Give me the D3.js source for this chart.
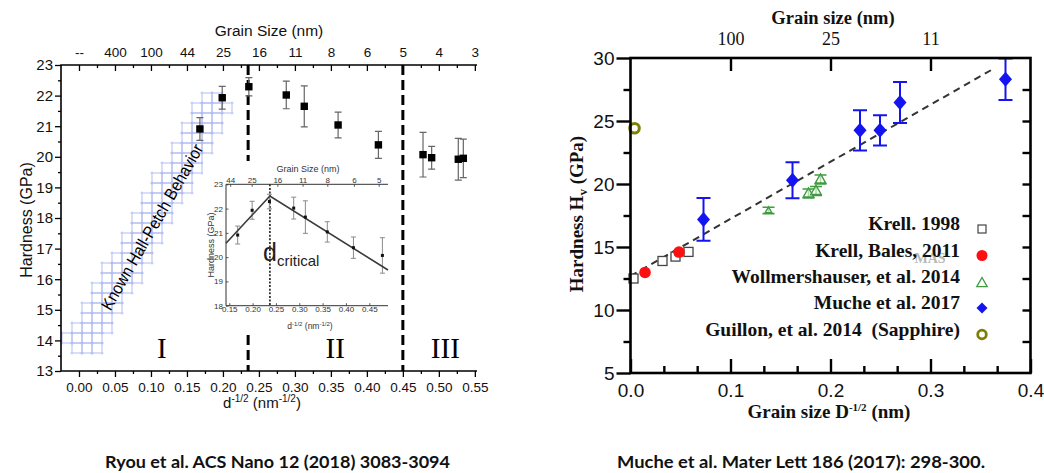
<!DOCTYPE html>
<html>
<head>
<meta charset="utf-8">
<script src="https://cdn.jsdelivr.net/npm/d3@7"></script>
<style>
  body { margin: 0; background: #fff; }
  svg { display: block; }
</style>
</head>
<body>
<svg id="fig" width="1044" height="473"></svg>
<script>
// ---------- Left panel: hardness vs d^-1/2 (Ryou et al.) ----------
const ryouX   = [0.168, 0.199, 0.236, 0.288, 0.313, 0.360, 0.416, 0.478, 0.490, 0.527, 0.534];
const ryouH   = [20.91, 21.93, 22.29, 22.02, 21.65, 21.04, 20.39, 20.07, 19.97, 19.92, 19.95];
const ryouErr = [0.37, 0.37, 0.30, 0.45, 0.67, 0.42, 0.44, 0.73, 0.37, 0.68, 0.63];
const insetCount = 8;                       // inset repeats the first eight points
const leftXTicks = [0, 0.05, 0.10, 0.15, 0.20, 0.25, 0.30, 0.35, 0.40, 0.45, 0.50, 0.55];
const topGrainLabels = ["--", "400", "100", "44", "25", "16", "11", "8", "6", "5", "4", "3"];
const leftYTicks = [13, 14, 15, 16, 17, 18, 19, 20, 21, 22, 23];
const regionBounds = [0.235, 0.45];
const regionLabels = ["I", "II", "III"];
const regionLabelX = [0.115, 0.356, 0.509];
const hallPetchBand = [[-0.022, 13.88], [0.018, 13.38], [0.214, 21.62], [0.178, 22.22]];
const insetFit = [[0.143, 20.57], [0.237, 22.52], [0.49, 19.47]];
const dCritical = 0.237;
const insetXTicks = [0.15, 0.20, 0.25, 0.30, 0.35, 0.40, 0.45];
const insetYTicks = [18, 19, 20, 21, 22, 23];
const insetTopPos = [0.152, 0.198, 0.253, 0.307, 0.360, 0.417, 0.470];
const insetTopLabels = ["44", "25", "16", "11", "8", "6", "5"];

// ---------- Right panel: hardness vs D^-1/2 (Muche et al.) ----------
const krellX = [0.003, 0.032, 0.045, 0.058];
const krellH = [12.5, 13.89, 14.24, 14.61];
const balesX = [0.0145, 0.0485];
const balesH = [12.98, 14.6];
const wollX = [0.138, 0.178, 0.1855, 0.190];
const wollH = [17.9, 19.25, 19.45, 20.36];
const wollErr = [0.25, 0.35, 0.35, 0.35];
const mucheX = [0.073, 0.162, 0.2295, 0.2495, 0.2695, 0.375];
const mucheH = [17.19, 20.3, 24.26, 24.26, 26.47, 28.31];
const mucheErr = [1.7, 1.43, 1.6, 1.2, 1.63, 1.65];
const guillonX = [0.004];
const guillonH = [24.42];
const trendLine = [[0.0, 12.7], [0.362, 29.1]];
const rightXTicks = [0, 0.1, 0.2, 0.3, 0.4];
const rightYTicks = [5, 10, 15, 20, 25, 30];
const rightTopPos = [0.1, 0.2, 0.3];
const rightTopLabels = ["100", "25", "11"];
const legendNames = ["Krell. 1998", "Krell, Bales, 2011", "Wollmershauser, et al. 2014",
                     "Muche et al. 2017", "Guillon, et al. 2014  (Sapphire)"];

const sans = "'Liberation Sans', Arial, sans-serif";
const serif = "'Liberation Serif', 'Times New Roman', serif";
const svg = d3.select("#fig");

/* =================== LEFT PANEL =================== */
const L = { left: 61, right: 477, top: 65, bottom: 371 };
const xL = d3.scaleLinear().domain([-0.025, 0.553]).range([L.left, L.right]);
const yL = d3.scaleLinear().domain([13, 23]).range([L.bottom, L.top]);
const gL = svg.append("g").attr("font-family", sans);

// cross-hatched Hall-Petch band built from whole grid cells
const bandPx = hallPetchBand.map(([x, y]) => [xL(x), yL(y)]);
const cell = 10;
const bx = d3.extent(bandPx, d => d[0]), by = d3.extent(bandPx, d => d[1]);
const cells = [];
for (let cx = Math.floor(bx[0] / cell) * cell + 2; cx < bx[1]; cx += cell)
  for (let cy = Math.floor(by[0] / cell) * cell + 3; cy < by[1]; cy += cell)
    if (d3.polygonContains(bandPx, [cx + cell / 2, cy + cell / 2])) cells.push([cx, cy]);
gL.append("g").attr("stroke", "#b1bcf2").attr("stroke-width", 1).attr("fill", "none")
  .selectAll("path").data(cells).join("path")
  .attr("d", ([cx, cy]) =>
    `M${cx - 1.5},${cy}H${cx + cell + 1.5}M${cx - 1.5},${cy + cell}H${cx + cell + 1.5}` +
    `M${cx},${cy - 1.5}V${cy + cell + 1.5}M${cx + cell},${cy - 1.5}V${cy + cell + 1.5}`);

gL.append("text")
  .attr("transform", "translate(152,227) rotate(-60.2)")
  .attr("text-anchor", "middle").attr("dy", "0.35em")
  .attr("font-size", 17).attr("textLength", 188).attr("lengthAdjust", "spacingAndGlyphs")
  .text("Known Hall-Petch Behavior");

// regime boundaries
gL.selectAll("line.region").data(regionBounds).join("line")
  .attr("class", "region")
  .attr("x1", d => xL(d)).attr("x2", d => xL(d))
  .attr("y1", L.top).attr("y2", L.bottom)
  .attr("stroke", "#000").attr("stroke-width", 3).attr("stroke-dasharray", "10,5");

gL.selectAll("text.region").data(regionLabels).join("text")
  .attr("class", "region")
  .attr("x", (d, i) => xL(regionLabelX[i])).attr("y", 358)
  .attr("text-anchor", "middle").attr("font-family", serif).attr("font-size", 29)
  .text(d => d);

// data with error bars
const ryou = ryouX.map((x, i) => ({ x, h: ryouH[i], e: ryouErr[i] }));
const eb = gL.append("g").attr("stroke", "#666").attr("stroke-width", 1.2).attr("fill", "none");
eb.selectAll("path").data(ryou).join("path")
  .attr("d", d => {
    const x = xL(d.x), y1 = yL(d.h + d.e), y2 = yL(d.h - d.e);
    return `M${x},${y1}V${y2}M${x - 3.5},${y1}H${x + 3.5}M${x - 3.5},${y2}H${x + 3.5}`;
  });
gL.append("g").selectAll("rect").data(ryou).join("rect")
  .attr("x", d => xL(d.x) - 3.7).attr("y", d => yL(d.h) - 3.7)
  .attr("width", 7.4).attr("height", 7.4).attr("fill", "#000");

// axes
const fmt2 = d3.format(".2f");
const axL = gL.append("g").attr("transform", `translate(${L.left},0)`)
  .call(d3.axisLeft(yL).tickValues(leftYTicks).tickSize(6).tickPadding(2).tickFormat(d3.format("d")));
gL.append("g").attr("transform", `translate(${L.left},0)`)
  .call(d3.axisLeft(yL).tickValues(d3.range(13.5, 23, 1)).tickSize(3).tickFormat(""));
const axB = gL.append("g").attr("transform", `translate(0,${L.bottom})`)
  .call(d3.axisBottom(xL).tickValues(leftXTicks).tickSize(6).tickPadding(5).tickFormat(fmt2));
gL.append("g").attr("transform", `translate(0,${L.bottom})`)
  .call(d3.axisBottom(xL).tickValues(leftXTicks.map(v => v + 0.025).filter(v => v < 0.553)).tickSize(3).tickFormat(""));
const axT = gL.append("g").attr("transform", `translate(0,${L.top})`)
  .call(d3.axisTop(xL).tickValues(leftXTicks).tickSize(-6).tickPadding(8)
    .tickFormat((d, i) => topGrainLabels[i]));
gL.append("g").attr("transform", `translate(0,${L.top})`)
  .call(d3.axisTop(xL).tickValues(leftXTicks.map(v => v + 0.025).filter(v => v < 0.553)).tickSize(-3).tickFormat(""));
gL.selectAll(".domain").remove();
gL.selectAll(".tick line").attr("stroke", "#000").attr("stroke-width", 1.3);
axL.selectAll("text").attr("font-size", 15).attr("font-family", sans).attr("fill", "#111");
axB.selectAll("text").attr("font-size", 13.5).attr("font-family", sans).attr("fill", "#111");
axT.selectAll("text").attr("font-size", 13.5).attr("font-family", sans).attr("fill", "#111");
gL.append("path")
  .attr("d", `M${L.right},${L.top}H${L.left}V${L.bottom}H${L.right}`)
  .attr("fill", "none").attr("stroke", "#000").attr("stroke-width", 1.6);

gL.append("text").attr("x", 269).attr("y", 36).attr("text-anchor", "middle")
  .attr("font-size", 15.5).attr("fill", "#111").text("Grain Size (nm)");
gL.append("text").attr("transform", "translate(32,220) rotate(-90)")
  .attr("text-anchor", "middle").attr("font-size", 16).attr("fill", "#111").text("Hardness (GPa)");
const xtL = gL.append("text").attr("x", 262).attr("y", 408).attr("text-anchor", "middle")
  .attr("font-size", 15).attr("fill", "#111");
xtL.append("tspan").text("d");
xtL.append("tspan").attr("dy", -6).attr("font-size", 10).text("-1/2");
xtL.append("tspan").attr("dy", 6).text(" (nm");
xtL.append("tspan").attr("dy", -6).attr("font-size", 10).text("-1/2");
xtL.append("tspan").attr("dy", 6).text(")");

/* ---------- inset ---------- */
const I = { left: 226, right: 388, top: 184.3, bottom: 305.7 };
const xI = d3.scaleLinear().domain([0.143, 0.49]).range([I.left, I.right]);
const yI = d3.scaleLinear().domain([18, 23]).range([I.bottom, I.top]);
const gI = svg.append("g").attr("font-family", sans);
gI.append("rect").attr("x", 203).attr("y", 161).attr("width", 192).attr("height", 171).attr("fill", "#fff");

gI.append("line").attr("x1", xI(dCritical)).attr("x2", xI(dCritical))
  .attr("y1", I.top).attr("y2", I.bottom)
  .attr("stroke", "#333").attr("stroke-width", 1.8).attr("stroke-dasharray", "2,1.6");
const insetData = ryou.slice(0, insetCount);
gI.append("g").attr("stroke", "#8a8a8a").attr("stroke-width", 1).attr("fill", "none")
  .selectAll("path").data(insetData).join("path")
  .attr("d", d => {
    const x = xI(d.x), y1 = yI(d.h + d.e), y2 = yI(d.h - d.e);
    return `M${x},${y1}V${y2}M${x - 2.5},${y1}H${x + 2.5}M${x - 2.5},${y2}H${x + 2.5}`;
  });
gI.append("path").datum(insetFit)
  .attr("d", d3.line().x(d => xI(d[0])).y(d => yI(d[1])))
  .attr("fill", "none").attr("stroke", "#3a3a3a").attr("stroke-width", 1.6);
gI.append("g").selectAll("rect").data(insetData).join("rect")
  .attr("x", d => xI(d.x) - 1.5).attr("y", d => yI(d.h) - 1.5)
  .attr("width", 3).attr("height", 3).attr("fill", "#111");

const iL = gI.append("g").attr("transform", `translate(${I.left},0)`)
  .call(d3.axisLeft(yI).tickValues(insetYTicks).tickSize(-2.5).tickPadding(3).tickFormat(d3.format("d")));
const iB = gI.append("g").attr("transform", `translate(0,${I.bottom})`)
  .call(d3.axisBottom(xI).tickValues(insetXTicks).tickSize(-2.5).tickPadding(1).tickFormat(fmt2));
const iT = gI.append("g").attr("transform", `translate(0,${I.top})`)
  .call(d3.axisTop(xI).tickValues(insetTopPos).tickSize(-2.5).tickPadding(1.5)
    .tickFormat((d, i) => insetTopLabels[i]));
gI.selectAll(".domain").remove();
gI.selectAll(".tick line").attr("stroke", "#333").attr("stroke-width", 0.8);
gI.selectAll(".tick text").attr("font-size", 8).attr("font-family", sans).attr("fill", "#333");
gI.append("path").attr("d", `M${I.right},${I.top}H${I.left}V${I.bottom}H${I.right}`)
  .attr("fill", "none").attr("stroke", "#333").attr("stroke-width", 1);

gI.append("text").attr("x", 308).attr("y", 171.5).attr("text-anchor", "middle")
  .attr("font-size", 9).attr("fill", "#333").text("Grain Size (nm)");
gI.append("text").attr("transform", "translate(214,245) rotate(-90)")
  .attr("text-anchor", "middle").attr("font-size", 9).attr("fill", "#333").text("Hardness (GPa)");
const xtI = gI.append("text").attr("x", 310).attr("y", 329).attr("text-anchor", "middle")
  .attr("font-size", 8.5).attr("fill", "#333");
xtI.append("tspan").text("d");
xtI.append("tspan").attr("dy", -3.5).attr("font-size", 6).text("-1/2");
xtI.append("tspan").attr("dy", 3.5).text(" (nm");
xtI.append("tspan").attr("dy", -3.5).attr("font-size", 6).text("-1/2");
xtI.append("tspan").attr("dy", 3.5).text(")");
const dc = gI.append("text").attr("x", 263).attr("y", 261).attr("fill", "#222").attr("font-size", 25);
dc.append("tspan").text("d");
dc.append("tspan").attr("dy", 5).attr("font-size", 15).text("critical");

/* =================== RIGHT PANEL =================== */
const R = { left: 630.5, right: 1030.5, top: 58, bottom: 373 };
const xR = d3.scaleLinear().domain([0, 0.4]).range([R.left, R.right]);
const yR = d3.scaleLinear().domain([5, 30]).range([R.bottom, R.top]);
const gR = svg.append("g");

const blue = "#1414f0", red = "#ff1010", green = "#3f9c3f", olive = "#7f7f08";

// trend line
gR.append("path").datum(trendLine)
  .attr("d", d3.line().x(d => xR(d[0])).y(d => yR(d[1])))
  .attr("fill", "none").attr("stroke", "#333").attr("stroke-width", 2).attr("stroke-dasharray", "7,5");

// Muche et al. 2017 (error bars + diamonds)
const muche = mucheX.map((x, i) => ({ x, h: mucheH[i], e: mucheErr[i] }));
gR.append("g").attr("stroke", blue).attr("stroke-width", 2).attr("fill", "none")
  .selectAll("path").data(muche).join("path")
  .attr("d", d => {
    const x = xR(d.x), y1 = yR(Math.min(d.h + d.e, 30)), y2 = yR(d.h - d.e);
    return `M${x},${y1}V${y2}M${x - 7},${y1}H${x + 7}M${x - 7},${y2}H${x + 7}`;
  });
const diamond = (w, h) => `M0,${-h}L${w},0L0,${h}L${-w},0Z`;
gR.append("g").selectAll("path").data(muche).join("path")
  .attr("transform", d => `translate(${xR(d.x)},${yR(d.h)})`)
  .attr("d", diamond(6.5, 7.5)).attr("fill", blue);

// Wollmershauser et al. 2014 (open triangles with error bars)
const woll = wollX.map((x, i) => ({ x, h: wollH[i], e: wollErr[i] }));
gR.append("g").attr("stroke", green).attr("stroke-width", 1.6).attr("fill", "none")
  .selectAll("path").data(woll).join("path")
  .attr("d", d => {
    const x = xR(d.x), y1 = yR(d.h + d.e), y2 = yR(d.h - d.e);
    return `M${x},${y1}V${y2}M${x - 6},${y1}H${x + 6}M${x - 6},${y2}H${x + 6}`;
  });
const tri = s => `M0,${-s}L${s * 0.95},${s * 0.65}L${-s * 0.95},${s * 0.65}Z`;
gR.append("g").selectAll("path").data(woll).join("path")
  .attr("transform", d => `translate(${xR(d.x)},${yR(d.h)})`)
  .attr("d", (d, i) => tri(i === 0 ? 3.5 : 5.5))
  .attr("fill", "#fff").attr("fill-opacity", 0.6).attr("stroke", green).attr("stroke-width", 1.4);

// Krell 1998 (open squares)
gR.append("g").selectAll("rect").data(krellX.map((x, i) => ({ x, h: krellH[i] }))).join("rect")
  .attr("x", d => xR(d.x) - 4.5).attr("y", d => yR(d.h) - 4.5)
  .attr("width", 9).attr("height", 9)
  .attr("fill", "#fff").attr("stroke", "#444").attr("stroke-width", 1.3);

// Krell, Bales 2011 (filled red circles)
gR.append("g").selectAll("circle").data(balesX.map((x, i) => ({ x, h: balesH[i] }))).join("circle")
  .attr("cx", d => xR(d.x)).attr("cy", d => yR(d.h)).attr("r", 5.8).attr("fill", red);

// Guillon et al. 2014 sapphire (open olive circle)
gR.append("g").selectAll("circle").data(guillonX.map((x, i) => ({ x, h: guillonH[i] }))).join("circle")
  .attr("cx", d => xR(d.x)).attr("cy", d => yR(d.h)).attr("r", 4.8)
  .attr("fill", "#fff").attr("stroke", olive).attr("stroke-width", 3);

// axes (frame ticks)
const rL = gR.append("g").attr("transform", `translate(${R.left},0)`)
  .call(d3.axisLeft(yR).tickValues(rightYTicks).tickSize(14).tickPadding(2).tickFormat(d3.format("d")));
gR.append("g").attr("transform", `translate(${R.left},0)`)
  .call(d3.axisLeft(yR).tickValues(d3.range(7.5, 30, 5)).tickSize(7).tickFormat(""));
const rB = gR.append("g").attr("transform", `translate(0,${R.bottom})`)
  .call(d3.axisBottom(xR).tickValues(rightXTicks).tickSize(-14).tickPadding(11).tickFormat(d3.format(".1f")));
gR.append("g").attr("transform", `translate(0,${R.bottom})`)
  .call(d3.axisBottom(xR).tickValues(d3.range(1, 12).filter(i => i % 3 !== 0).map(i => i / 30))
    .tickSize(-7).tickFormat(""));
const rT = gR.append("g").attr("transform", `translate(0,${R.top})`)
  .call(d3.axisTop(xR).tickValues(rightTopPos).tickSize(-13).tickPadding(13)
    .tickFormat((d, i) => rightTopLabels[i]));
gR.append("g").attr("transform", `translate(${R.right},0)`)
  .call(d3.axisRight(yR).tickValues(d3.range(7.5, 30, 2.5)).tickSize(-8).tickFormat(""));
gR.selectAll(".domain").remove();
gR.selectAll(".tick line").attr("stroke", "#000").attr("stroke-width", 2.4);
rL.selectAll("text").attr("font-size", 19).attr("font-family", sans).attr("fill", "#111");
rB.selectAll("text").attr("font-size", 19).attr("font-family", sans).attr("fill", "#111");
rT.selectAll("text").attr("font-size", 18).attr("font-family", serif).attr("fill", "#111");
gR.append("rect").attr("x", R.left).attr("y", R.top)
  .attr("width", R.right - R.left).attr("height", R.bottom - R.top)
  .attr("fill", "none").attr("stroke", "#000").attr("stroke-width", 2.6);

// titles
gR.append("text").attr("x", 833).attr("y", 24).attr("text-anchor", "middle")
  .attr("font-family", serif).attr("font-weight", "bold").attr("font-size", 18.5).attr("fill", "#111")
  .text("Grain size (nm)");
const ytR = gR.append("text").attr("transform", "translate(583,214) rotate(-90)")
  .attr("text-anchor", "middle").attr("font-family", serif).attr("font-weight", "bold")
  .attr("font-size", 19).attr("fill", "#111");
ytR.append("tspan").text("Hardness H");
ytR.append("tspan").attr("dy", 4).attr("font-size", 13).text("v");
ytR.append("tspan").attr("dy", -4).text(" (GPa)");
const xtR = gR.append("text").attr("x", 829).attr("y", 418).attr("text-anchor", "middle")
  .attr("font-family", serif).attr("font-weight", "bold").attr("font-size", 19).attr("fill", "#111");
xtR.append("tspan").text("Grain size D");
xtR.append("tspan").attr("dy", -7).attr("font-size", 11).text("-1/2");
xtR.append("tspan").attr("dy", 7).text(" (nm)");

// legend
const legendY = [229, 255.5, 282, 308, 334.5];
const lg = gR.append("g").attr("font-family", serif).attr("font-weight", "bold").attr("font-size", 19.5);
lg.append("text").attr("x", 930).attr("y", 263).attr("text-anchor", "middle")
  .attr("font-size", 14).attr("fill", "#b8b8b8").text("MAS");
lg.selectAll("text.entry").data(legendNames).join("text")
  .attr("class", "entry")
  .attr("x", 960).attr("y", (d, i) => legendY[i] + 1).attr("text-anchor", "end")
  .attr("fill", "#111").style("white-space", "pre").text(d => d);
const mx = 982;
lg.append("rect").attr("x", mx - 4).attr("y", legendY[0] - 4).attr("width", 8).attr("height", 8)
  .attr("fill", "#fff").attr("stroke", "#444").attr("stroke-width", 1.2);
lg.append("circle").attr("cx", mx).attr("cy", legendY[1]).attr("r", 5.5).attr("fill", red);
lg.append("path").attr("transform", `translate(${mx},${legendY[2] + 1})`).attr("d", tri(5.5))
  .attr("fill", "none").attr("stroke", green).attr("stroke-width", 1.3);
lg.append("path").attr("transform", `translate(${mx},${legendY[3]})`).attr("d", diamond(5.5, 5.5))
  .attr("fill", blue);
lg.append("circle").attr("cx", mx).attr("cy", legendY[4]).attr("r", 4.3)
  .attr("fill", "#fff").attr("stroke", olive).attr("stroke-width", 2.8);

/* =================== captions =================== */
const cap = svg.append("g").attr("font-family", "Lato, 'Open Sans', sans-serif")
  .attr("font-weight", "bold").attr("font-size", 17).attr("fill", "#111");
cap.append("text").attr("x", 105).attr("y", 468)
  .attr("textLength", 345).attr("lengthAdjust", "spacingAndGlyphs")
  .text("Ryou et al. ACS Nano 12 (2018) 3083-3094");
cap.append("text").attr("x", 617).attr("y", 468)
  .attr("textLength", 368).attr("lengthAdjust", "spacingAndGlyphs")
  .text("Muche et al. Mater Lett 186 (2017): 298-300.");
</script>
</body>
</html>
